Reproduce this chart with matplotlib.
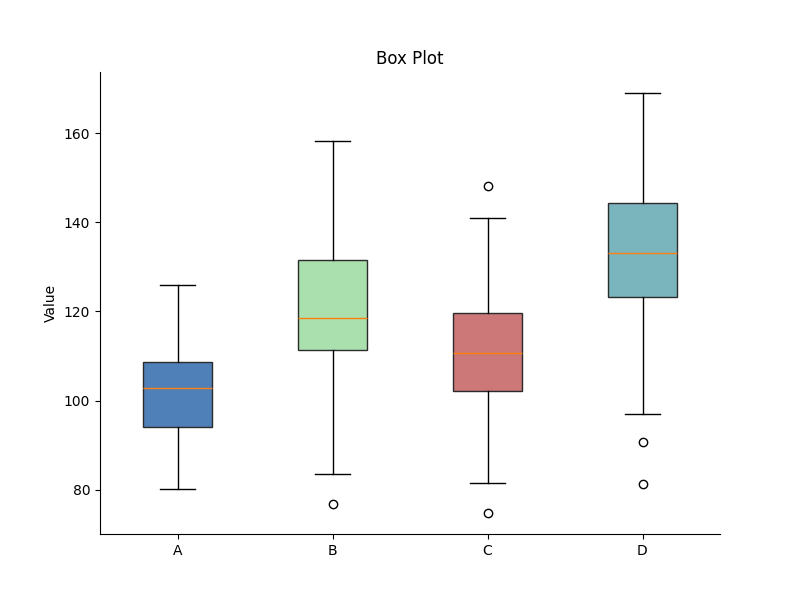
import matplotlib
matplotlib.use("Agg")
import matplotlib.pyplot as plt

labels = ['A', 'B', 'C', 'D']
whislo = [80.2, 83.6, 81.6, 97.0]
q1 = [94.1, 111.4, 102.2, 123.2]
med = [102.9, 118.5, 110.7, 133.2]
q3 = [108.7, 131.6, 119.7, 144.3]
whishi = [126.0, 158.2, 141.0, 169.0]
fliers = [[], [76.9], [148.1, 74.8], [90.8, 81.3]]
colors = ['#5080b8', '#aadfae', '#cc7878', '#7ab4bc']


def main():
    stats = []
    for i in range(len(labels)):
        stats.append({'label': labels[i], 'whislo': whislo[i], 'q1': q1[i],
                      'med': med[i], 'q3': q3[i], 'whishi': whishi[i],
                      'fliers': fliers[i]})

    fig, ax = plt.subplots(figsize=(8, 6), dpi=100)
    bp = ax.bxp(stats, patch_artist=True)
    for box, c in zip(bp['boxes'], colors):
        box.set_facecolor(c)
        box.set_edgecolor('#2b2b2b')

    ax.set_title('Box Plot')
    ax.set_ylabel('Value')
    ax.spines['top'].set_visible(False)
    ax.spines['right'].set_visible(False)
    plt.savefig('out.png')
    plt.close()


if __name__ == '__main__':
    main()
